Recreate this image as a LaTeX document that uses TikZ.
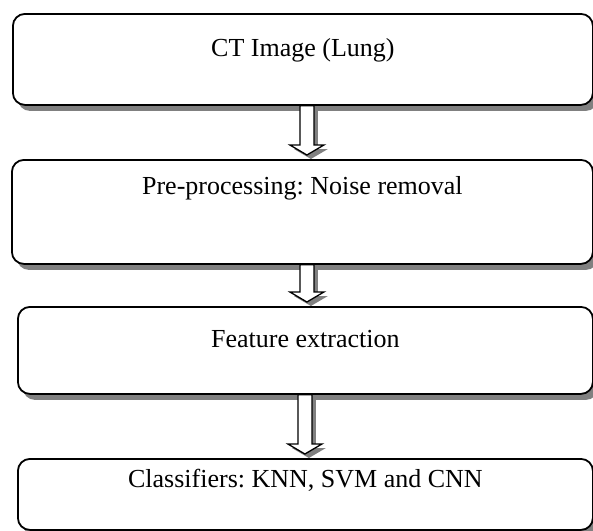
\documentclass[tikz,border=0pt]{standalone}
\usepackage{fontspec}
\setmainfont{Liberation Serif}
\frenchspacing
\usetikzlibrary{calc,shadows}

\newcommand{\flowarrow}[3]{%
\draw [hollow] ($(#1.south)+(#3-7,0)$) -- ($(#1.south|-#2.north)+(#3-7,-14)$)
-- ($(#1.south|-#2.north)+(#3-17,-14)$) -- ($(#1.south|-#2.north)+(#3,-4)$)
-- ($(#1.south|-#2.north)+(#3+17,-14)$) -- ($(#1.south|-#2.north)+(#3+7,-14)$)
-- ($(#1.south)+(#3+7,0)$) -- cycle;}

\begin{document}
\begin{tikzpicture}[x=1pt, y=-1pt,
  stage/.style={draw, line width=1.8pt, rounded corners=12pt, fill=white,
    drop shadow={shadow xshift=5pt, shadow yshift=-6pt, fill=gray, opacity=1},
    anchor=north west, text height=18pt, font=\fontsize{26}{31}\selectfont},
  hollow/.style={draw, line width=1.3pt, fill=white, line join=miter,
    drop shadow={shadow xshift=4pt, shadow yshift=-4pt, fill=gray, opacity=1}}]
\useasboundingbox (0,0) rectangle (593,530);
\node [stage, minimum width=580pt, minimum height=91pt, text depth=23pt]
  (ct) at (12,13) {CT Image (Lung)};
\node [stage, minimum width=581pt, minimum height=104pt, text depth=53pt]
  (pre) at (11,159) {Pre-processing: Noise removal};
\node [stage, minimum width=575pt, minimum height=87pt, text depth=23pt]
  (feat) at (17,306) {Feature extraction};
\node [stage, minimum width=575pt, minimum height=71pt, text depth=31.6pt]
  (cls) at (17,458) {Classifiers: KNN, SVM and CNN};
\flowarrow{ct}{pre}{4}
\flowarrow{pre}{feat}{4.5}
\flowarrow{feat}{cls}{-0.5}
\end{tikzpicture}
\end{document}
